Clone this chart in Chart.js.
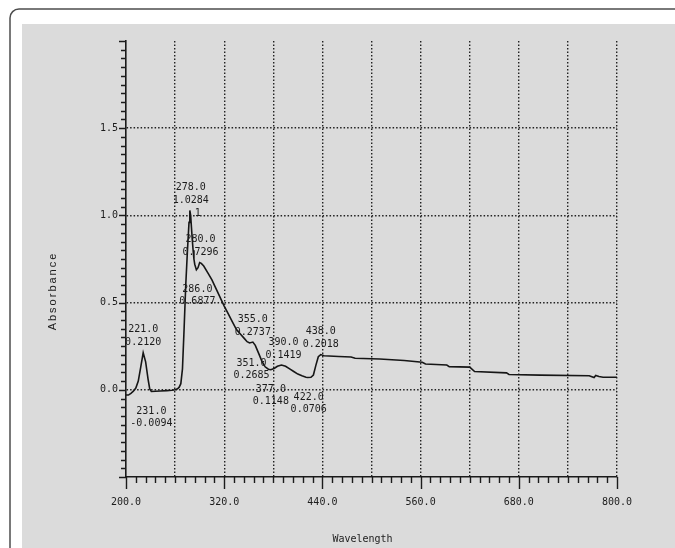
<!DOCTYPE html>
<html>
<head>
<meta charset="utf-8">
<script src="https://cdn.jsdelivr.net/npm/chart.js@4.4.1/dist/chart.umd.min.js"></script>
<style>
    body { margin: 0; background: #fff; }
    #wrap { width: 675px; height: 548px; }
</style>
</head>
<body>
<div id="wrap"><canvas id="spectrum" width="675" height="548"></canvas></div>
<script>
// spectrum
const wavelength = [200, 203, 206, 209, 212, 215, 218, 221, 224, 227, 229, 231, 236, 242, 250, 256, 260, 263, 265, 267,
    269, 271, 273, 275, 277, 278, 279, 280, 281, 282, 283, 284, 286, 288, 290, 292, 295, 300, 305, 310,
    315, 320, 325, 330, 335, 340, 345, 348, 351, 355, 358, 362, 366, 370, 374, 377, 381, 385, 390, 395,
    400, 405, 410, 415, 420, 422, 426, 429, 432, 435, 438, 442, 460, 475, 480, 510, 540, 562, 566, 592,
    595, 620, 626, 665, 668, 706, 766, 772, 774, 778, 783, 800]
const absorbance = [-0.03, -0.03, -0.02, -0.008, 0.01, 0.05, 0.13, 0.212, 0.16, 0.06, 0.005, -0.0094, -0.008, -0.007, -0.005, -0.003, 0.0, 0.006, 0.015, 0.035,
    0.12, 0.35, 0.6, 0.79, 0.96, 1.0284, 1.0, 0.93, 0.86, 0.8, 0.75, 0.72, 0.6877, 0.7, 0.7296, 0.725, 0.71, 0.67, 0.63, 0.58,
    0.53, 0.48, 0.435, 0.39, 0.345, 0.318, 0.292, 0.276, 0.2685, 0.2737, 0.255, 0.21, 0.165, 0.132, 0.118, 0.1148, 0.122, 0.135, 0.1419, 0.135,
    0.12, 0.105, 0.09, 0.08, 0.072, 0.0706, 0.072, 0.085, 0.14, 0.19, 0.2018, 0.195, 0.191, 0.188, 0.181, 0.177, 0.168, 0.158, 0.148, 0.142,
    0.133, 0.13, 0.105, 0.097, 0.088, 0.084, 0.081, 0.07, 0.082, 0.076, 0.072, 0.072]

// peak / valley annotations printed by the instrument
const peakWavelengths = [221, 231, 278, 280, 286, 351, 355, 377, 390, 422, 438]
const peakValues = [0.2120, -0.0094, 1.0284, 0.7296, 0.6877, 0.2685, 0.2737, 0.1148, 0.1419, 0.0706, 0.2018]
const peakSide = ['up', 'down', 'up', 'up', 'down', 'down', 'up', 'down', 'up', 'down', 'up']
const peakShiftX = [0, 0, 1, 9, 1, 2, 0, 0, 2, 1, 0]

const xMin = 200, xMax = 800, xStep = 60, xLabelStep = 120
const yMin = -0.5, yMax = 2.0, yStep = 0.5

const ink = '#1c1c1c'
const mono = "'DejaVu Sans Mono', monospace"

const paper = {
    id: 'paper',
    beforeDraw(chart) {
        const ctx = chart.ctx
        ctx.save()
        ctx.fillStyle = '#ffffff'
        ctx.fillRect(0, 0, chart.width, chart.height)
        ctx.fillStyle = '#dbdbdb'
        ctx.fillRect(22, 24, chart.width - 22, chart.height - 24)
        ctx.strokeStyle = '#4d4d4d'
        ctx.lineWidth = 1.5
        ctx.beginPath()
        ctx.roundRect(10, 9, chart.width + 20, chart.height + 20, 9)
        ctx.stroke()
        ctx.restore()
    }
}

// small tick marks along both axes
const minorTicks = {
    id: 'minorTicks',
    afterDraw(chart) {
        const ctx = chart.ctx
        const x = chart.scales.x
        const y = chart.scales.y
        const left = chart.chartArea.left
        const bottom = chart.chartArea.bottom
        ctx.save()
        ctx.strokeStyle = ink
        ctx.lineWidth = 1.4
        ctx.beginPath()
        for (let i = 0; i <= 50; i++) {
            const py = Math.round(y.getPixelForValue(yMin + i * 0.05)) + 0.5
            const len = i % 10 === 0 ? 7 : 5
            ctx.moveTo(left - len, py)
            ctx.lineTo(left, py)
        }
        for (let i = 0; i <= 50; i++) {
            const px = Math.round(x.getPixelForValue(xMin + i * 12)) + 0.5
            const len = i % 10 === 0 ? 12 : 6
            ctx.moveTo(px, bottom)
            ctx.lineTo(px, bottom + len)
        }
        ctx.stroke()
        ctx.restore()
    }
}

const annotations = {
    id: 'annotations',
    afterDraw(chart) {
        const ctx = chart.ctx
        const x = chart.scales.x
        const y = chart.scales.y
        const area = chart.chartArea
        ctx.save()
        ctx.fillStyle = ink
        ctx.font = '10px ' + mono
        ctx.textAlign = 'center'
        ctx.textBaseline = 'middle'
        for (let i = 0; i < peakWavelengths.length; i++) {
            const px = x.getPixelForValue(peakWavelengths[i]) + peakShiftX[i]
            const py = y.getPixelForValue(peakValues[i])
            const dy = peakSide[i] === 'up' ? [-23, -10] : [20, 32]
            ctx.fillText(peakWavelengths[i].toFixed(1), px, py + dy[0])
            ctx.fillText(peakValues[i].toFixed(4), px, py + dy[1])
            if (peakWavelengths[i] === 278) {
                ctx.fillText('1', px + 7, py + 3)
            }
        }

        ctx.fillText('Wavelength', (area.left + area.right) / 2 - 9, 539)

        ctx.font = '11px "Liberation Sans", Arial, sans-serif'
        ctx.letterSpacing = '2px'
        ctx.translate(53, (area.top + area.bottom) / 2 + 32)
        ctx.rotate(-Math.PI / 2)
        ctx.fillText('Absorbance', 0, 0)
        ctx.restore()
    }
}

function hideEdge(values) {
    return (c) => (c.tick && values.includes(c.tick.value)) ? 'rgba(0,0,0,0)' : '#222'
}

function createChart(ctx, data, options, plugins) {
    return new Chart(ctx, {
        type: 'scatter',
        data: data,
        options: options,
        plugins: plugins
    })
}

createChart(
    document.getElementById('spectrum').getContext('2d'),
    {
        datasets: [{
            label: 'Absorbance',
            data: wavelength.map((w, i) => ({ x: w, y: absorbance[i] })),
            showLine: true,
            borderColor: '#161616',
            borderWidth: 1.6,
            pointRadius: 0,
            tension: 0
        }]
    },
    {
        responsive: false,
        devicePixelRatio: 1,
        animation: false,
        layout: {
            padding: { left: 0, top: 41, right: 58, bottom: 0 }
        },
        plugins: {
            legend: { display: false },
            tooltip: { enabled: false }
        },
        scales: {
            x: {
                type: 'linear',
                min: xMin,
                max: xMax,
                afterFit: (s) => { s.height = 71 },
                ticks: {
                    stepSize: xStep,
                    padding: 19,
                    color: ink,
                    font: { family: mono, size: 10 },
                    maxRotation: 0,
                    autoSkip: false,
                    callback: (v) => (v - xMin) % xLabelStep === 0 ? v.toFixed(1) : ''
                },
                grid: {
                    drawTicks: false,
                    color: hideEdge([xMin]),
                    lineWidth: 1.4
                },
                border: {
                    display: true,
                    color: '#1a1a1a',
                    width: 1.6,
                    dash: [1.5, 2]
                }
            },
            y: {
                type: 'linear',
                min: yMin,
                max: yMax,
                afterFit: (s) => { s.width = 126 },
                ticks: {
                    stepSize: yStep,
                    padding: 8,
                    color: ink,
                    font: { family: mono, size: 10 },
                    callback: (v) => (v > yMin && v < yMax) ? v.toFixed(1) : ''
                },
                grid: {
                    drawTicks: false,
                    color: hideEdge([yMin, yMax]),
                    lineWidth: 1.4
                },
                border: {
                    display: true,
                    color: '#1a1a1a',
                    width: 1.6,
                    dash: [1.5, 2]
                }
            }
        }
    },
    [paper, minorTicks, annotations]
)
</script>
</body>
</html>
